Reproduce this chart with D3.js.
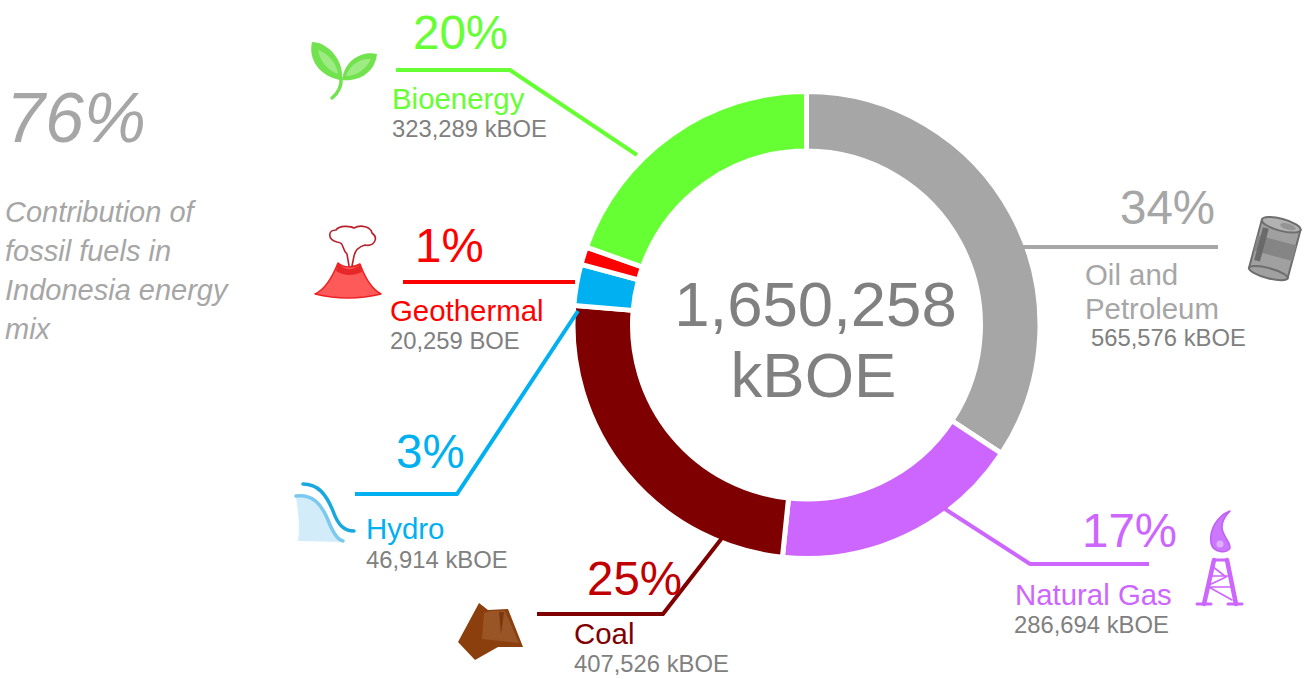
<!DOCTYPE html>
<html><head><meta charset="utf-8">
<script src="https://cdn.jsdelivr.net/npm/d3@7/dist/d3.min.js"></script>
<style>html,body{margin:0;padding:0;background:#fff}svg{display:block}text{font-family:"Liberation Sans",Arial,sans-serif}</style>
</head><body><svg id="c" width="1306" height="679"></svg>
<script>
const categories=["Oil and Petroleum","Natural Gas","Coal","Hydro","Geothermal","Bioenergy"];
const values=[565576,286694,407526,46914,20259,323289];
const percents=["34%","17%","25%","3%","1%","20%"];
const amounts=["565,576 kBOE","286,694 kBOE","407,526 kBOE","46,914 kBOE","20,259 BOE","323,289 kBOE"];
const totalLabel=["1,650,258","kBOE"];
const sideNote=["Contribution of","fossil fuels in","Indonesia energy","mix"];
const sideValue="76%";

// presentation, kept apart from the data
const colors=["#A6A6A6","#CC66FF","#7F0000","#00B0F0","#FF0000","#66FF33"];
const pctColors=["#A6A6A6","#CC66FF","#C00000","#00B0F0","#FF0000","#66FF33"];
const nameColors=["#A6A6A6","#CC66FF","#7F0000","#00B0F0","#FF0000","#66FF33"];
const pctPos=[[1120,224],[1082,547],[587,595],[396,468],[415,262],[413,49]];
const namePos=[[[1085,285],[1085,319]],[[1015,605]],[[574,644]],[[366,539]],[[390,321]],[[392,109]]];
const nameLines=[["Oil and","Petroleum"],["Natural Gas"],["Coal"],["Hydro"],["Geothermal"],["Bioenergy"]];
const amtPos=[[1091,346],[1014,633],[574,672],[366,568],[390,349],[392,137]];
const leaders=[
 [[1218,247],[1022,247]],
 [[1149,564],[1030,564],[945,509]],
 [[537,614],[663,614],[722,538]],
 [[355,494],[457,494],[578,311]],
 [[403,282],[575,282]],
 [[396,70],[510,70],[637,155]]
];

const svg=d3.select("#c");
const cx=806.5,cy=325,R=233.5,r=174;
const pie=d3.pie().sort(null).value(d=>d).startAngle(0).endAngle(2*Math.PI);
const arc=d3.arc().innerRadius(r).outerRadius(R);
svg.append("g").attr("transform",`translate(${cx},${cy})`)
 .selectAll("path").data(pie(values)).join("path")
 .attr("d",arc).attr("fill",(d,i)=>colors[i]).attr("stroke","#fff").attr("stroke-width",5);

const line=d3.line();
svg.append("g").selectAll("path").data(leaders).join("path")
 .attr("d",d=>line(d)).attr("fill","none").attr("stroke",(d,i)=>colors[i]).attr("stroke-width",4);

const t=(x,y,s,size,fill,extra)=>{const e=svg.append("text").attr("x",x).attr("y",y).attr("font-size",size).attr("fill",fill).text(s);if(extra)e.attr("font-style",extra);return e;};
percents.forEach((p,i)=>t(pctPos[i][0],pctPos[i][1],p,47.5,pctColors[i]));
nameLines.forEach((ls,i)=>ls.forEach((l,j)=>t(namePos[i][j][0],namePos[i][j][1],l,29.4,nameColors[i])));
amounts.forEach((a,i)=>t(amtPos[i][0],amtPos[i][1],a,23.8,"#808080"));
t(cx+9,326,totalLabel[0],63.5,"#808080").attr("text-anchor","middle");
t(cx+7,397,totalLabel[1],63.5,"#808080").attr("text-anchor","middle");
t(6,142,sideValue,70,"#A6A6A6","italic");
sideNote.forEach((s,i)=>t(5,222+i*39,s,29,"#A6A6A6","italic"));

// decorative icons
const ic=svg.append("g");
const P=(d,fill,stroke,w,op)=>ic.append("path").attr("d",d).attr("fill",fill||"none").attr("stroke",stroke||"none").attr("stroke-width",w||0).attr("opacity",op==null?1:op).attr("stroke-linecap","round").attr("stroke-linejoin","round");
// sprout
P("M312,42C326,42 344,58 342,80C326,79 307,64 312,42Z","#72E34F");
P("M318,50C327,53 337,63 338,74C329,71 320,62 318,50Z","#9DEB82");
P("M377,54C364,51 345,58 342,80C358,82 375,73 377,54Z","#72E34F");
P("M371,59C361,58 350,64 346,76C357,76 366,69 371,59Z","#9DEB82");
P("M341,78C342,87 338,93 332,98","none","#72E34F",3.5);
// volcano
P("M315,294C324,290 332,278 338,263C344,268 353,268 360,264C365,278 372,289 381,294C360,299 336,299 315,294Z","#FF5A5A","#EE2020",1.5);
P("M338,263C344,271 354,271 360,264L362,272C353,276 344,276 336,271Z","#E82828");
P("M349,266L347,254C341,248 345,243 337,242C327,239 328,230 336,230C339,225 351,226 354,228C361,224 371,227 372,233C379,238 374,247 365,245C358,247 355,251 354,256L352,266","#fff","#B8232B",1.6);
// hydro
P("M296,497C312,494 322,503 329,521C334,534 338,541 343,542L298,541C300,528 298,510 296,497Z","#D3ECFA");
P("M296,496C312,494 321,503 328,520C333,533 338,540 343,541","none","#7CC9F0",3.5);
P("M303,484C318,484 326,494 333,511C338,525 344,531 354,531","none","#19A8DE",3.5);
// coal
P("M479,603L488,610L508,609L523,647L498,647L475,660L458,642Z","#8A3F0D");
P("M484,613L490,611L505,611L519,643L482,639Z","#9A5526");
P("M499,612L504,612L501,634Z","#7A370C");
// barrel
const b=ic.append("g").attr("transform","translate(1275,248) rotate(15)");
b.append("rect").attr("x",-20).attr("y",-24).attr("width",40).attr("height",50).attr("fill","#A0A0A0").attr("stroke","#6E6E6E").attr("stroke-width",2);
b.append("rect").attr("x",-20).attr("y",-8).attr("width",40).attr("height",16).attr("fill","#858585");
b.append("rect").attr("x",-17).attr("y",-17).attr("width",6).attr("height",34).attr("fill","#6A6A6A");
b.append("ellipse").attr("cx",0).attr("cy",26).attr("rx",20).attr("ry",5).attr("fill","#A0A0A0").attr("stroke","#6E6E6E").attr("stroke-width",2);
b.append("ellipse").attr("cx",0).attr("cy",-24).attr("rx",20).attr("ry",6).attr("fill","#B2B2B2").attr("stroke","#6E6E6E").attr("stroke-width",2);
b.append("ellipse").attr("cx",7).attr("cy",-24).attr("rx",8).attr("ry",3).attr("fill","#949494");
// flame and derrick
P("M1230,511C1217,516 1209,530 1211,543C1213,553 1228,554 1230,548C1231,542 1222,536 1222,527C1222,521 1225,516 1230,511Z","#CC77FF","#BF5FF5",1.5);
ic.append("circle").attr("cx",1220).attr("cy",544).attr("r",3.5).attr("fill","#E0B0FF");
P("M1197,604H1211M1228,604H1242M1214,560H1227","none","#CC66FF",3);
P("M1214,560L1204,604M1227,560L1236,604","none","#CC66FF",4.5);
P("M1212,566L1226,577L1207,586L1232,600M1210,576H1228M1207,587H1232","none","#CC66FF",1.6);
</script></body></html>
